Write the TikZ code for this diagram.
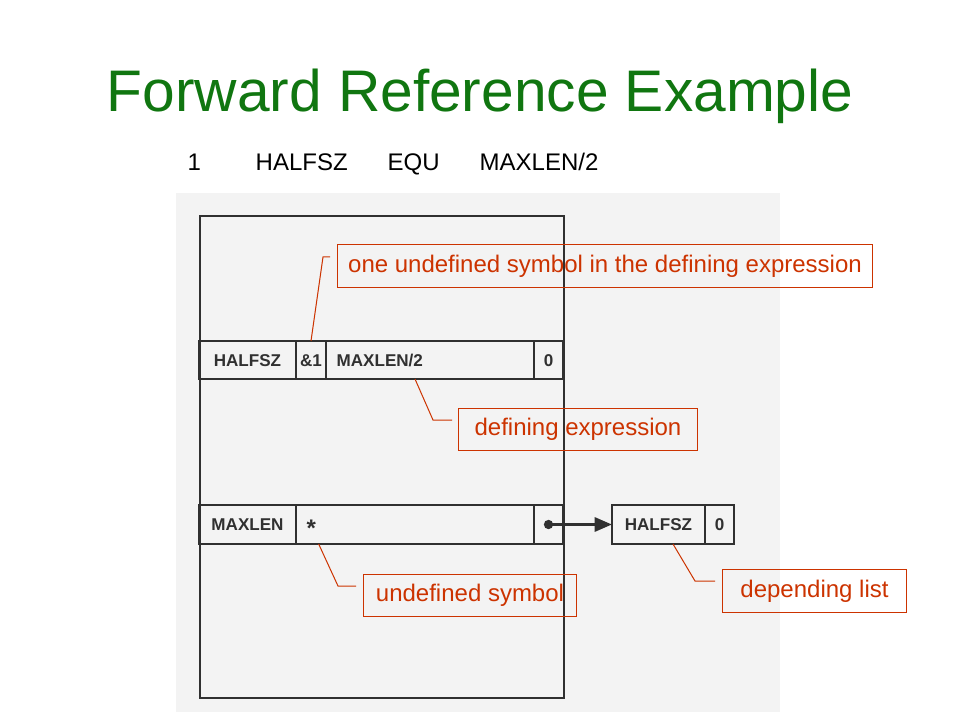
\documentclass[tikz,border=0pt]{standalone}
\usepackage{fontspec}
\setmainfont{Liberation Sans}
\usetikzlibrary{positioning,arrows.meta}
\definecolor{titlegreen}{RGB}{16,118,16}
\definecolor{notered}{RGB}{204,51,0}
\definecolor{scangray}{RGB}{243,243,243}
\definecolor{inkgray}{RGB}{48,48,48}
\newcommand{\cellfont}{\fontsize{12.8}{15}\selectfont\bfseries}
\newcommand{\notefont}{\fontsize{18}{21}\selectfont}

\begin{document}
\begin{tikzpicture}[x=0.75pt,y=-0.75pt,
  cell/.style={draw=inkgray,line width=1.3pt,inner sep=0pt,outer sep=0pt,minimum height=28.5pt,font=\cellfont,text=inkgray,text height=9.2pt,text depth=0pt},
  leftcell/.style={cell,align=left,inner xsep=8pt},
  note/.style={draw=notered,line width=0.75pt,inner sep=0pt,text=notered,font=\notefont,anchor=north west,minimum height=32pt},
  lead/.style={draw=notered,line width=0.75pt},
  link/.style={draw=inkgray,line width=2.3pt,-{Triangle[length=13pt,width=10.5pt]}}]
\useasboundingbox (0,0) rectangle (960,720);
% scanned figure
\fill[scangray] (176,193) rectangle (780,712);
\node (frame) [draw=inkgray,line width=1.3pt,anchor=north west,inner sep=0pt,minimum width=273pt,minimum height=361.5pt] at (199,215) {};

% title and source line
\node (title) [anchor=base,text=titlegreen,font=\fontsize{44}{50}\selectfont] at (480,112) {Forward Reference Example};
\node (lineno) [anchor=base west,font=\fontsize{18}{21}\selectfont] at (183,171) {1};
\node (label) [anchor=base west,font=\fontsize{18}{21}\selectfont] at (251,171) {HALFSZ};
\node (opcode) [anchor=base west,font=\fontsize{18}{21}\selectfont] at (383,171) {EQU};
\node (operand) [anchor=base west,font=\fontsize{18}{21}\selectfont] at (475,171) {MAXLEN/2};

% HALFSZ entry
\node (hname) [cell,anchor=north west,minimum width=72.75pt] at (199,341) {HALFSZ};
\node (hflag) [cell,right=0pt of hname,minimum width=22.5pt] {\&1};
\node (hexpr) [leftcell,right=0pt of hflag,text width=140pt,minimum width=156pt] {MAXLEN/2};
\node (hnext) [cell,right=0pt of hexpr,minimum width=21.75pt] {0};

% MAXLEN entry
\node (mname) [cell,anchor=north west,minimum width=72.75pt,minimum height=29.25pt] at (199,505) {MAXLEN};
\node (mval) [leftcell,right=0pt of mname,text width=162.5pt,minimum width=178.5pt,minimum height=29.25pt,inner xsep=8pt,text height=9pt,text depth=0pt] {\raisebox{-4.5pt}{\fontsize{18}{18}\selectfont\bfseries *}};
\node (mlink) [cell,right=0pt of mval,minimum width=21.75pt,minimum height=29.25pt] {};
\node (dot) [circle,fill=inkgray,inner sep=0pt,minimum size=7pt] at (mlink.center) {};

% depending list
\node (dname) [cell,anchor=north west,minimum width=69.75pt,minimum height=29.25pt] at (612,505) {HALFSZ};
\node (dnext) [cell,right=0pt of dname,minimum width=21.75pt,minimum height=29.25pt] {0};
\draw[link] (dot.center) -- (dname.west);

% callouts
\node (n1) [note,minimum width=401.25pt] at (337,244) {one undefined symbol in the defining expression};
\node (n2) [note,minimum width=179.25pt,minimum height=31.5pt] at (458,408) {defining expression};
\node (n3) [note,minimum width=159.75pt,minimum height=31.5pt] at (363,574) {undefined symbol};
\node (n4) [note,minimum width=138pt] at (722,569) {depending list};

\draw[lead] (hflag.north) -- ([xshift=-10.5pt,yshift=-9.75pt]n1.north west) -- ([xshift=-5.25pt,yshift=-9.75pt]n1.north west);
\draw[lead] ([xshift=66.75pt]hexpr.south west) -- ([xshift=-18.75pt,yshift=-9pt]n2.north west) -- ([xshift=-4.5pt,yshift=-9pt]n2.north west);
\draw[lead] ([xshift=17pt]mval.south west) -- ([xshift=-18.75pt,yshift=-9pt]n3.north west) -- ([xshift=-5.25pt,yshift=-9pt]n3.north west);
\draw[lead] ([xshift=45.75pt]dname.south west) -- ([xshift=-20.25pt,yshift=-9pt]n4.north west) -- ([xshift=-5.25pt,yshift=-9pt]n4.north west);
\end{tikzpicture}
\end{document}
